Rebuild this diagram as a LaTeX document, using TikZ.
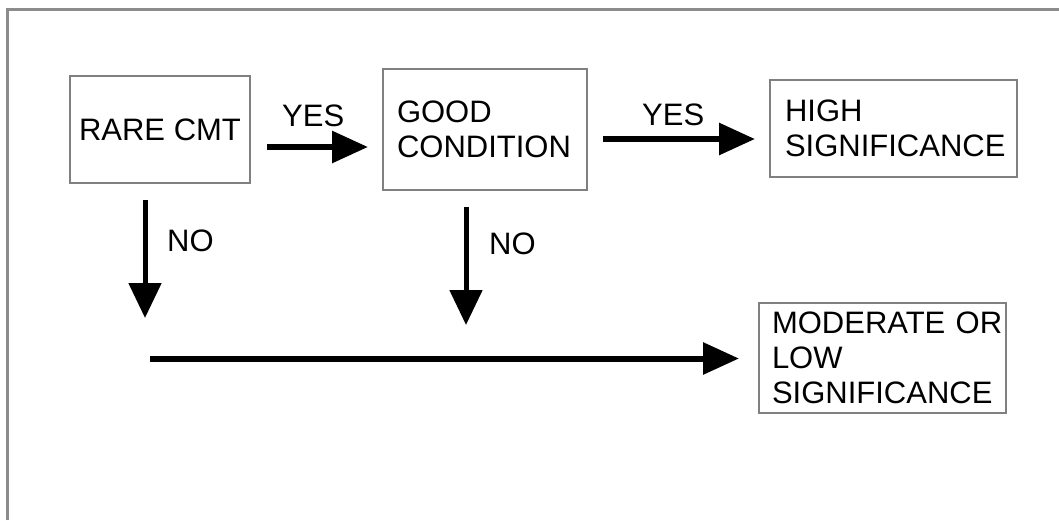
\documentclass[tikz,border=0pt]{standalone}
\usepackage{fontspec}
\setmainfont{Liberation Sans}
\usetikzlibrary{arrows.meta}
\begin{document}
\begin{tikzpicture}[x=1pt,y=-1pt,
  box/.style={draw=black!50,line width=1.6pt,rectangle,inner ysep=0pt,align=left,font=\fontsize{31}{35}\selectfont},
  lbl/.style={inner sep=0pt,anchor=base west,font=\fontsize{31}{35}\selectfont},
  arr/.style={line width=6pt,-{Triangle[length=36pt,width=31pt]}},
  varr/.style={line width=5pt,-{Triangle[length=35pt,width=32pt]}}]
\useasboundingbox (0,0) rectangle (1059,520);
% frame
\draw[black!45,line width=3pt] (7.5,520) -- (7.5,9.5) -- (1059,9.5);
% boxes
\node[box,align=center,inner xsep=0pt,minimum width=180pt,minimum height=107pt] (rare) at (160,129.5) {RARE CMT};
\node[box,inner xsep=14pt,text width=176pt,minimum height=121pt] (good) at (485,129.5) {GOOD\\CONDITION};
\node[box,inner xsep=15pt,text width=217pt,minimum height=97pt] (high) at (893.5,128.5) {HIGH\\SIGNIFICANCE};
\node[box,inner xsep=13pt,text width=221pt,minimum height=110pt] (mod) at (882.5,358) {\mbox{MODERATE OR}\\LOW\\SIGNIFICANCE};
% connector ends
\coordinate (y1s) at (267,147);
\coordinate (y1e) at (368,147);
\coordinate (y2s) at (603,139);
\coordinate (y2e) at (755,139);
\coordinate (n1s) at (145,200);
\coordinate (n1e) at (145,318);
\coordinate (n2s) at (466,207);
\coordinate (n2e) at (466,325);
\coordinate (bs) at (150,358.5);
\coordinate (be) at (739,358.5);
% arrows
\draw[arr] (y1s) -- (y1e);
\draw[arr] (y2s) -- (y2e);
\draw[varr] (n1s) -- (n1e);
\draw[varr] (n2s) -- (n2e);
\draw[arr] (bs) -- (be);
% labels
\node[lbl] (yes1) at (282,126) {YES};
\node[lbl] (yes2) at (642,125) {YES};
\node[lbl] (no1) at (167,251) {NO};
\node[lbl] (no2) at (489,254) {NO};
\end{tikzpicture}
\end{document}
